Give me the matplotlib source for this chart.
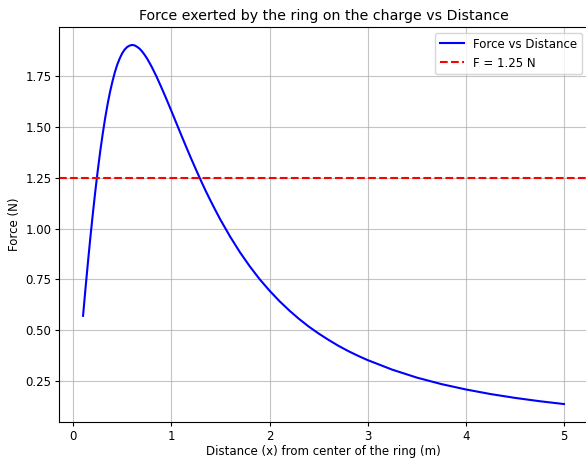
import numpy as np
import matplotlib
matplotlib.use("Agg")
import matplotlib.pyplot as plt

# values
distance = [0.1, 0.125, 0.15, 0.175, 0.2, 0.225, 0.25, 0.275, 0.3, 0.325,
            0.35, 0.375, 0.4, 0.425, 0.45, 0.475, 0.5, 0.525, 0.55, 0.575,
            0.6, 0.625, 0.65, 0.675, 0.7, 0.725, 0.75, 0.775, 0.8, 0.85,
            0.9, 0.95, 1.0, 1.05, 1.1, 1.15, 1.2, 1.25, 1.3, 1.35, 1.4, 1.45,
            1.5, 1.6, 1.7, 1.8, 1.9, 2.0, 2.1, 2.2, 2.3, 2.4, 2.5, 2.6, 2.7,
            2.8, 2.9, 3.0, 3.25, 3.5, 3.75, 4.0, 4.25, 4.5, 4.75, 5.0]
force = [0.571, 0.706, 0.835, 0.959, 1.075, 1.185, 1.287, 1.381, 1.466, 1.544,
         1.613, 1.674, 1.726, 1.772, 1.810, 1.840, 1.865, 1.883, 1.895, 1.902,
         1.905, 1.903, 1.896, 1.887, 1.874, 1.858, 1.840, 1.819, 1.797, 1.748,
         1.694, 1.638, 1.580, 1.521, 1.462, 1.404, 1.347, 1.292, 1.238, 1.186,
         1.137, 1.090, 1.044, 0.960, 0.883, 0.814, 0.751, 0.695, 0.644, 0.598,
         0.556, 0.518, 0.484, 0.453, 0.424, 0.398, 0.3746, 0.353, 0.306, 0.267,
         0.235, 0.2085, 0.186, 0.167, 0.1507, 0.1366]
f_line = 1.25

fig = plt.figure(figsize=(5.86, 4.59), dpi=100)
ax = fig.add_axes([59/586, 37/459, 529/586, 395/459])

ax.plot(distance, force, color="blue", label="Force vs Distance")
ax.axhline(f_line, color="red", linestyle="--", label=f"F = {f_line} N")

ax.set_title("Force exerted by the ring on the charge vs Distance", fontsize=10.2, pad=5)
ax.set_xlabel("Distance (x) from center of the ring (m)", fontsize=8.5, labelpad=2)
ax.set_ylabel("Force (N)", fontsize=8.5, labelpad=3)
ax.tick_params(labelsize=8.5, pad=2.5, length=3)
ax.legend(fontsize=8.5, loc="upper right")
ax.grid(True, color="#b0b0b0", alpha=0.75)

fig.savefig("out.png", dpi=100)
